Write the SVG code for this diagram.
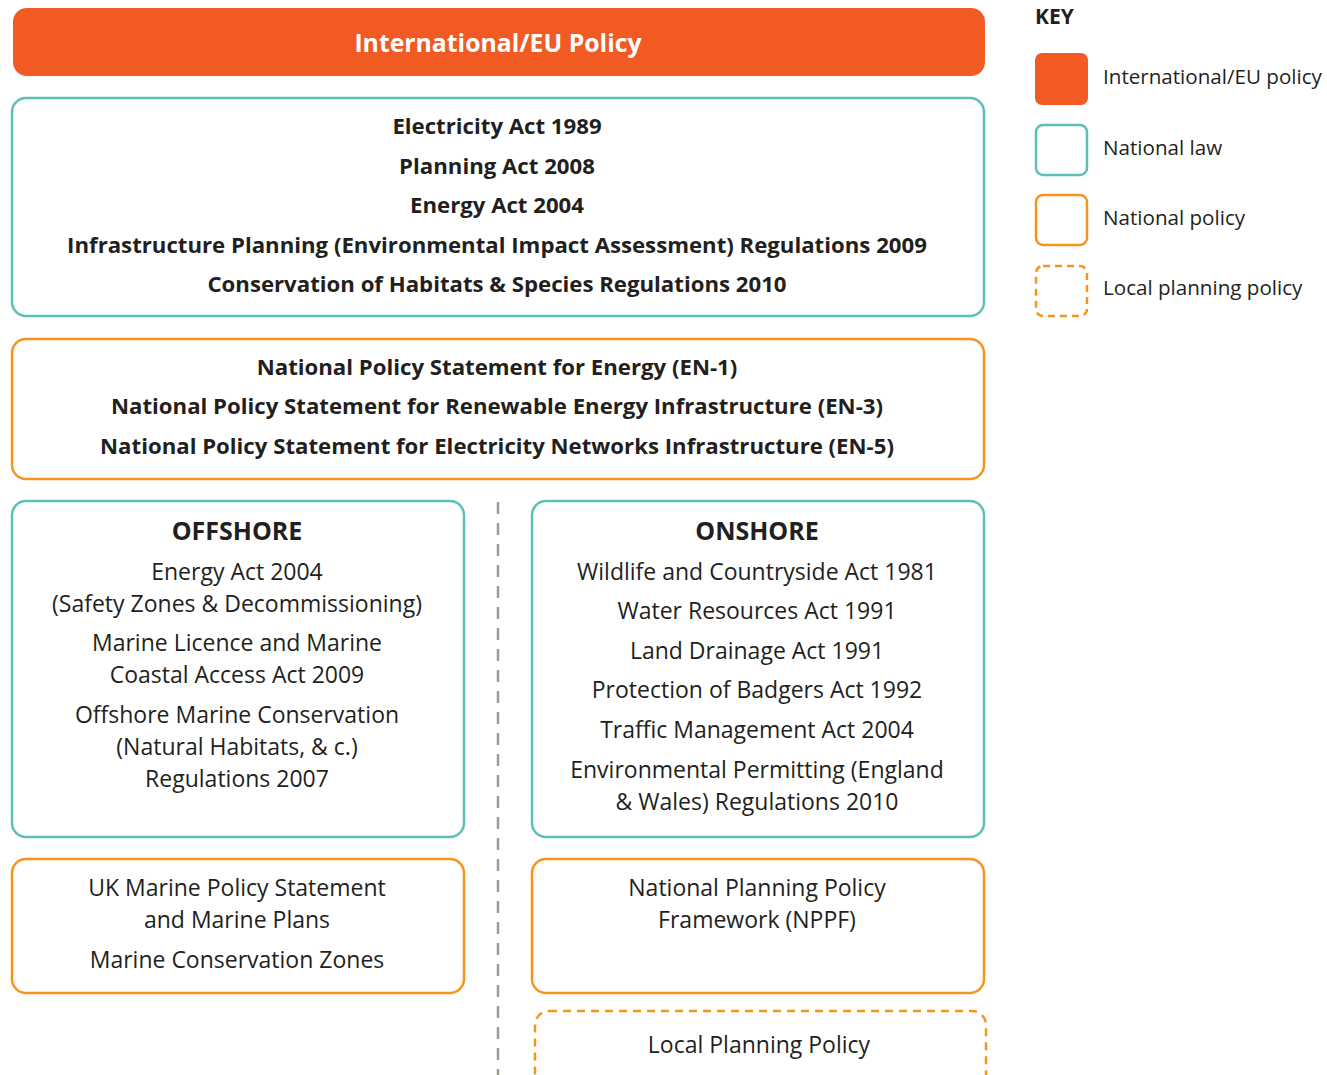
<svg xmlns="http://www.w3.org/2000/svg" width="1327" height="1075" viewBox="0 0 1327 1075">
  <style>
    .law { fill: #ffffff; stroke: #5DC0B6; stroke-width: 2.5; }
    .pol { fill: #ffffff; stroke: #F7941E; stroke-width: 2.5; }
    .loc { fill: #ffffff; stroke: #F7941E; stroke-width: 2.5; stroke-dasharray: 8 6; }
    .eu { fill: #F15A22; }
    text { font-family: "Open Sans", "Noto Sans", sans-serif; fill: #231F20; text-anchor: middle; }
    .b { font-weight: 700; font-size: 22.2px; }
    .r { font-size: 23px; }
    .h { font-weight: 700; font-size: 25px; }
    .k { text-anchor: start; font-size: 20.6px; }
  </style>

  <!-- divider between offshore and onshore columns -->
  <g id="connectors">
    <line x1="498" y1="502" x2="498" y2="1075" stroke="#A39A8F" stroke-width="2.5" stroke-dasharray="12 9"/>
  </g>

  <g id="eu-policy">
    <rect class="eu" x="13" y="8" width="972" height="68" rx="14"/>
    <text x="498" y="52" style="fill:#ffffff;font-weight:700;font-size:24.8px">International/EU Policy</text>
  </g>

  <g id="national-law">
    <rect class="law" x="12" y="98" width="972" height="218" rx="14"/>
    <text class="b" x="497" y="134">Electricity Act 1989</text>
    <text class="b" x="497" y="174">Planning Act 2008</text>
    <text class="b" x="497" y="213">Energy Act 2004</text>
    <text class="b" x="497" y="253">Infrastructure Planning (Environmental Impact Assessment) Regulations 2009</text>
    <text class="b" x="497" y="292">Conservation of Habitats &amp; Species Regulations 2010</text>
  </g>

  <g id="national-policy-statements">
    <rect class="pol" x="12" y="339" width="972" height="140" rx="14"/>
    <text class="b" x="497" y="375">National Policy Statement for Energy (EN-1)</text>
    <text class="b" x="497" y="414">National Policy Statement for Renewable Energy Infrastructure (EN-3)</text>
    <text class="b" x="497" y="454">National Policy Statement for Electricity Networks Infrastructure (EN-5)</text>
  </g>

  <g id="offshore">
    <rect class="law" x="12" y="501" width="452" height="336" rx="14"/>
    <text class="h" x="237" y="540">OFFSHORE</text>
    <text class="r" x="237" y="580">Energy Act 2004</text>
    <text class="r" x="237" y="612">(Safety Zones &amp; Decommissioning)</text>
    <text class="r" x="237" y="651">Marine Licence and Marine</text>
    <text class="r" x="237" y="683">Coastal Access Act 2009</text>
    <text class="r" x="237" y="723">Offshore Marine Conservation</text>
    <text class="r" x="237" y="755">(Natural Habitats, &amp; c.)</text>
    <text class="r" x="237" y="787">Regulations 2007</text>
  </g>

  <g id="onshore">
    <rect class="law" x="532" y="501" width="452" height="336" rx="14"/>
    <text class="h" x="757" y="540">ONSHORE</text>
    <text class="r" x="757" y="580">Wildlife and Countryside Act 1981</text>
    <text class="r" x="757" y="619">Water Resources Act 1991</text>
    <text class="r" x="757" y="659">Land Drainage Act 1991</text>
    <text class="r" x="757" y="698">Protection of Badgers Act 1992</text>
    <text class="r" x="757" y="738">Traffic Management Act 2004</text>
    <text class="r" x="757" y="778">Environmental Permitting (England</text>
    <text class="r" x="757" y="810">&amp; Wales) Regulations 2010</text>
  </g>

  <g id="marine-policy">
    <rect class="pol" x="12" y="859" width="452" height="134" rx="14"/>
    <text class="r" x="237" y="896">UK Marine Policy Statement</text>
    <text class="r" x="237" y="928">and Marine Plans</text>
    <text class="r" x="237" y="968">Marine Conservation Zones</text>
  </g>

  <g id="nppf">
    <rect class="pol" x="532" y="859" width="452" height="134" rx="14"/>
    <text class="r" x="757" y="896">National Planning Policy</text>
    <text class="r" x="757" y="928">Framework (NPPF)</text>
  </g>

  <g id="local-planning">
    <rect class="loc" x="535" y="1011" width="451" height="80" rx="14"/>
    <text class="r" x="759" y="1053">Local Planning Policy</text>
  </g>

  <g id="key">
    <text x="1035" y="24" style="text-anchor:start;font-weight:700;font-size:21px">KEY</text>
    <rect class="eu" x="1035" y="53" width="53" height="52" rx="7"/>
    <text class="k" x="1103" y="84">International/EU policy</text>
    <rect class="law" x="1036" y="125" width="51" height="50" rx="7"/>
    <text class="k" x="1103" y="155">National law</text>
    <rect class="pol" x="1036" y="195" width="51" height="50" rx="7"/>
    <text class="k" x="1103" y="225">National policy</text>
    <rect class="loc" x="1036" y="266" width="51" height="50" rx="7" style="stroke-dasharray:7 5"/>
    <text class="k" x="1103" y="295">Local planning policy</text>
  </g>
</svg>
